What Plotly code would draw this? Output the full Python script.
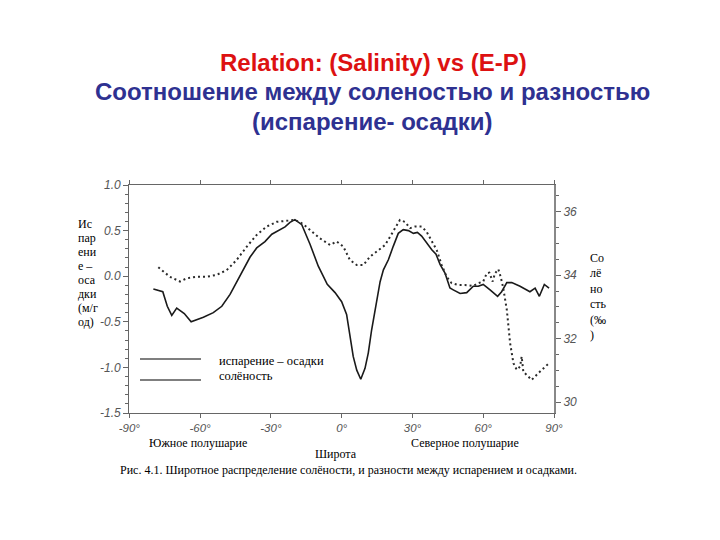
import plotly.graph_objects as go

# E-P (m/year), solid line, left axis
ep_lat = [-79.8, -75.8, -73.9, -72.0, -69.9, -66.7, -63.8, -58.6, -54.4, -50.8, -47.3, -44.5,
          -41.7, -38.8, -36.0, -32.5, -29.6, -27.5, -24.0, -21.9, -19.8, -16.9, -13.4, -9.9,
          -6.1, -2.8, 0.0, 2.1, 3.5, 4.9, 6.4, 8.1, 9.9, 11.3, 12.7, 14.9, 16.3, 17.7, 19.8,
          21.9, 24.0, 26.1, 28.3, 30.4, 32.1, 33.9, 36.0, 38.2, 40.0, 41.7, 43.8, 45.9, 47.3,
          50.2, 53.0, 55.8, 57.9, 60.0, 62.9, 66.1, 67.8, 70.0, 72.1, 75.6, 79.8, 82.0, 83.8,
          85.9, 87.9]
ep_val = [-0.14, -0.17, -0.33, -0.43, -0.35, -0.41, -0.50, -0.45, -0.40, -0.33, -0.20, -0.06,
          0.07, 0.21, 0.31, 0.38, 0.46, 0.49, 0.54, 0.59, 0.62, 0.565, 0.35, 0.11,
          -0.09, -0.18, -0.28, -0.42, -0.66, -0.88, -1.03, -1.13, -1.01, -0.84, -0.59, -0.29,
          -0.06, 0.07, 0.18, 0.33, 0.47, 0.51, 0.50, 0.47, 0.48, 0.44, 0.36, 0.29, 0.24, 0.13,
          0.035, -0.13, -0.15, -0.19, -0.18, -0.11, -0.11, -0.09, -0.15, -0.22, -0.17, -0.07,
          -0.07, -0.11, -0.17, -0.13, -0.22, -0.09, -0.13]

# Salinity (‰), dotted line, right axis
sal_lat = [-77.7, -75.6, -72.8, -68.5, -65.7, -61.4, -57.2, -53.0, -48.7, -44.5, -40.2, -36.0,
           -31.8, -27.5, -23.3, -19.8, -16.3, -13.4, -9.2, -4.9, -2.1, 0.7, 3.5, 6.4, 9.2,
           12.0, 14.9, 18.4, 20.5, 22.6, 24.7, 26.8, 29.0, 31.1, 33.9, 36.0, 38.2, 40.3, 42.4,
           44.5, 46.6, 49.4, 52.3, 55.8, 57.9, 60.0, 61.5, 62.6, 64.0, 65.0, 66.4, 67.4, 68.5,
           70.0, 71.4, 72.8, 74.2, 75.6, 76.3, 77.0, 79.1, 80.5, 83.3, 86.1, 87.9]
sal_val = [34.25, 34.11, 33.95, 33.80, 33.90, 33.95, 33.95, 34.01, 34.16, 34.48, 34.90, 35.27,
           35.53, 35.68, 35.72, 35.74, 35.61, 35.42, 35.16, 34.95, 35.06, 34.90, 34.48, 34.32,
           34.32, 34.58, 34.74, 34.95, 35.21, 35.48, 35.74, 35.68, 35.48, 35.53, 35.53, 35.37,
           35.06, 34.79, 34.32, 33.95, 33.75, 33.69, 33.69, 33.66, 33.75, 33.80, 34.06, 34.08,
           33.80, 34.06, 34.19, 33.95, 33.59, 32.91, 31.86, 31.23, 31.02, 31.12, 31.44, 30.96,
           30.81, 30.70, 30.91, 31.12, 31.23]

x_ticks = [-90, -60, -30, 0, 30, 60, 90]
x_tick_text = ["-90°", "-60°", "-30°", "0°", "30°", "60°", "90°"]
y_ticks = [1.0, 0.5, 0.0, -0.5, -1.0, -1.5]
y_tick_text = ["1.0", "0.5", "0.0", "-0.5", "-1.0", "-1.5"]
y2_ticks = [30, 32, 34, 36]

left_label_lines = ["Ис", "пар", "ени", "е –", "оса", "дки", "(м/г", "од)"]
right_label_lines = ["Со", "лё", "но", "сть", "(‰", ")"]

W, H = 720, 540
def fx(p): return p / W
def fy(p): return 1 - p / H

fig = go.Figure()
fig.add_trace(go.Scatter(x=ep_lat, y=ep_val, mode="lines",
                         line=dict(color="#1a1a1a", width=1.6), yaxis="y", showlegend=False))
fig.add_trace(go.Scatter(x=sal_lat, y=sal_val, mode="lines",
                         line=dict(color="#2a2a2a", width=2, dash="2px,3px"),
                         yaxis="y2", showlegend=False))

tickfont = dict(family="Liberation Sans", size=12, color="#555555", style="italic")
xtickfont = dict(family="Liberation Sans", size=11.5, color="#555555", style="italic")
axcol = "#666666"

fig.update_layout(
    width=W, height=H,
    margin=dict(l=0, r=0, t=0, b=0),
    paper_bgcolor="white", plot_bgcolor="white",
    xaxis=dict(domain=[fx(129.3), fx(554)], range=[-90, 90], tickvals=x_ticks,
               ticktext=x_tick_text, tickfont=xtickfont, showgrid=False, zeroline=False,
               showline=True, linecolor=axcol, linewidth=1.3, mirror="ticks",
               ticks="outside", ticklen=4, tickcolor=axcol, automargin=False),
    yaxis=dict(domain=[fy(413), fy(185)], range=[-1.5, 1.0], tickvals=y_ticks,
               ticktext=y_tick_text, tickfont=tickfont, showgrid=False, zeroline=False,
               showline=True, linecolor=axcol, linewidth=1.3,
               ticks="outside", ticklen=5, tickcolor=axcol, automargin=False,
               minor=dict(dtick=0.1, ticks="outside", ticklen=3, tickcolor=axcol)),
    yaxis2=dict(overlaying="y", side="right", anchor="x", range=[29.66, 36.84],
                tickvals=y2_ticks, tickfont=tickfont, showgrid=False, zeroline=False,
                showline=True, linecolor="#888888", linewidth=2,
                ticks="outside", ticklen=5, tickcolor=axcol, automargin=False,
                minor=dict(dtick=0.5, ticks="outside", ticklen=3, tickcolor=axcol)),
)

ann = []
ann.append(dict(text="<b>Relation: (Salinity) vs (E-P)</b>", x=fx(373), y=fy(62),
                font=dict(family="Liberation Sans", size=24, color="#dd1111")))
ann.append(dict(text="<b>Соотношение между соленостью и разностью</b>", x=fx(372), y=fy(91),
                font=dict(family="Liberation Sans", size=24, color="#2e3191")))
ann.append(dict(text="<b>(испарение- осадки)</b>", x=fx(372), y=fy(121),
                font=dict(family="Liberation Sans", size=24, color="#2e3191")))

serif = "Liberation Serif"
for i, t in enumerate(left_label_lines):
    ann.append(dict(text=t, x=fx(76), y=fy(224 + i * 14), xanchor="left",
                    font=dict(family=serif, size=12, color="black")))
for i, t in enumerate(right_label_lines):
    ann.append(dict(text=t, x=fx(588), y=fy(258 + i * 15.4), xanchor="left",
                    font=dict(family=serif, size=12, color="black")))
ann.append(dict(text="испарение – осадки", x=fx(217), y=fy(361), xanchor="left",
                font=dict(family=serif, size=12.5, color="black")))
ann.append(dict(text="солёность", x=fx(217), y=fy(376), xanchor="left",
                font=dict(family=serif, size=12.5, color="black")))
ann.append(dict(text="Южное полушарие", x=fx(198), y=fy(442.5),
                font=dict(family=serif, size=12, color="black")))
ann.append(dict(text="Северное полушарие", x=fx(465), y=fy(442.5),
                font=dict(family=serif, size=12, color="black")))
ann.append(dict(text="Широта", x=fx(336), y=fy(454),
                font=dict(family=serif, size=12, color="black")))
ann.append(dict(text="Рис. 4.1. Широтное распределение солёности, и разности между испарением и осадками.",
                x=fx(348), y=fy(469.5),
                font=dict(family=serif, size=12, color="black")))
for a in ann:
    a.update(xref="paper", yref="paper", showarrow=False)
    a.setdefault("xanchor", "center")
    a.setdefault("yanchor", "middle")
fig.update_layout(annotations=ann)

shapes = []
for yy in (359, 380):
    shapes.append(dict(type="line", xref="paper", yref="paper", x0=fx(140), x1=fx(201),
                       y0=fy(yy), y1=fy(yy), line=dict(color="black", width=1.2)))
fig.update_layout(shapes=shapes)

fig.write_html("out.html")
